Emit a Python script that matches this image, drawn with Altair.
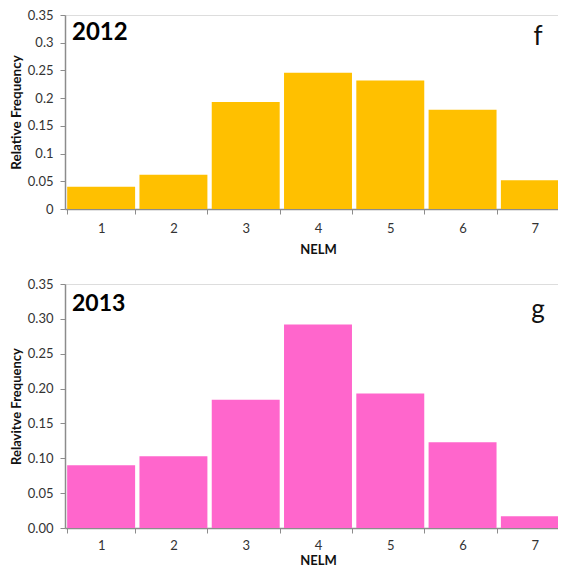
import altair as alt
import pandas as pd

nelm = [1, 2, 3, 4, 5, 6, 7]
freq_2012 = [0.040, 0.062, 0.193, 0.246, 0.232, 0.179, 0.052]
freq_2013 = [0.090, 0.103, 0.184, 0.292, 0.193, 0.123, 0.017]
y_ticks = [0, 0.05, 0.10, 0.15, 0.20, 0.25, 0.30, 0.35]

FONT = "Lato"
PLOT_W = 506


def panel(vals, color, year, letter, ytitle, fmt, height, label_pad, title_pad,
          year_y, letter_y, year_size, ytitle_size):
    df = pd.DataFrame({"NELM": nelm, "freq": vals})
    bars = alt.Chart(df).mark_bar(color=color).encode(
        x=alt.X(
            "NELM:O",
            scale=alt.Scale(paddingInner=0.06, paddingOuter=0.03),
            axis=alt.Axis(
                title="NELM", labelAngle=0, tickBand="extent", labelPadding=label_pad,
                titlePadding=title_pad, labelFontSize=13, titleFontSize=13,
                labelFont=FONT, titleFont=FONT, titleFontWeight="bold",
                labelColor="#333333", titleColor="#111111",
                domainColor="#8c8c8c", tickColor="#8c8c8c", tickSize=5,
                domainWidth=1.5,
            ),
        ),
        y=alt.Y(
            "freq:Q",
            scale=alt.Scale(domain=[0, 0.35], nice=False),
            axis=alt.Axis(
                values=y_ticks, format=fmt, title=ytitle, grid=False,
                labelFontSize=13, titleFontSize=ytitle_size, labelFont=FONT, titleFont=FONT,
                titleFontWeight="bold", labelColor="#333333", titleColor="#111111",
                domainColor="#8c8c8c", tickColor="#8c8c8c", tickSize=5,
                labelPadding=7, titlePadding=4, domainWidth=1.5,
            ),
        ),
    )
    ydf = pd.DataFrame({"t": [year]})
    year_text = alt.Chart(ydf).mark_text(
        align="left", baseline="alphabetic", font=FONT, fontSize=year_size,
        fontWeight="bold", color="#000000",
    ).encode(x=alt.value(7), y=alt.value(year_y), text="t:N")
    ldf = pd.DataFrame({"t": [letter]})
    letter_text = alt.Chart(ldf).mark_text(
        align="center", baseline="alphabetic", font=FONT, fontSize=26,
        color="#111111",
    ).encode(x=alt.value(473), y=alt.value(letter_y), text="t:N")
    return alt.layer(bars, year_text, letter_text).properties(width=PLOT_W, height=height)


top = panel(freq_2012, "#FFC000", "2012", "f", "Relative Frequency", ".2~f", 194, 8, 8,
            25, 30, 24, 13.5)
bottom = panel(freq_2013, "#FF66CC", "2013", "g", "Relavitve Frequency", ".2f", 244, 6, 2,
               27, 34, 23, 13)

chart = alt.vconcat(top, bottom, spacing=20).configure_view(
    stroke="#8c8c8c", strokeWidth=1.5
).configure(padding={"top": 0, "right": -14, "left": 0, "bottom": 0})

chart.save("out.html", embed_options={"renderer": "svg", "actions": False})
